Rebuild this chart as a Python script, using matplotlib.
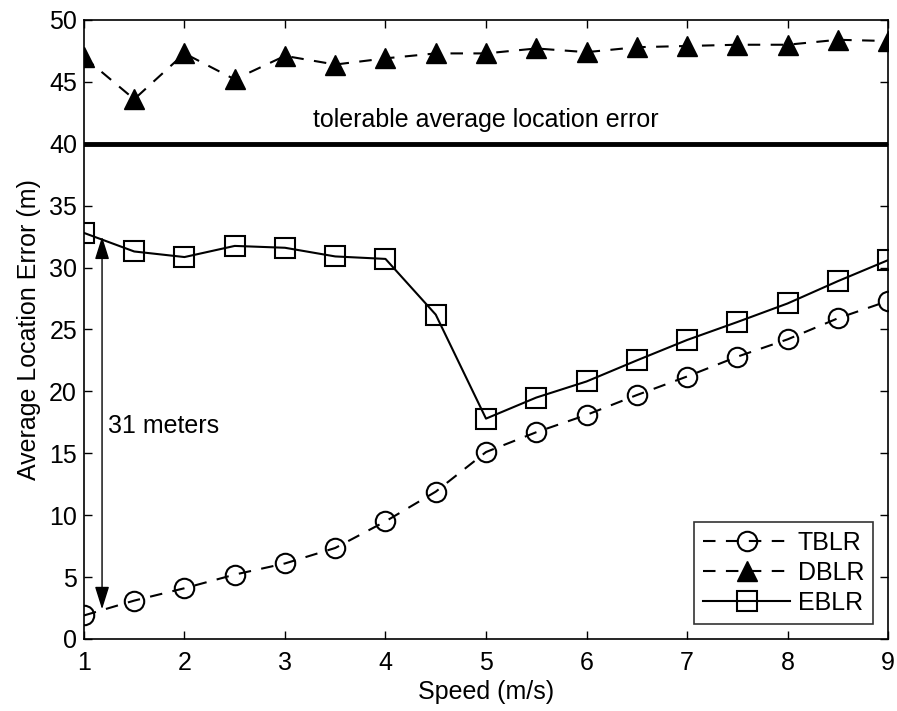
import matplotlib
matplotlib.use("Agg")
import matplotlib.pyplot as plt

plt.rcParams["font.family"] = ["Liberation Sans", "DejaVu Sans"]

speed = [1, 1.5, 2, 2.5, 3, 3.5, 4, 4.5, 5, 5.5, 6, 6.5, 7, 7.5, 8, 8.5, 9]
tblr = [1.9, 3.1, 4.1, 5.2, 6.1, 7.35, 9.5, 11.9, 15.1, 16.7, 18.1, 19.7, 21.2, 22.8, 24.2, 25.9, 27.3]
dblr = [47.0, 43.6, 47.3, 45.2, 47.1, 46.4, 46.9, 47.3, 47.3, 47.7, 47.4, 47.8, 47.9, 48.0, 48.0, 48.4, 48.3]
eblr = [32.8, 31.3, 30.85, 31.75, 31.6, 30.9, 30.7, 26.2, 17.8, 19.5, 20.8, 22.5, 24.15, 25.6, 27.1, 28.9, 30.6]
tolerable = 40
gap_top = 32.5
gap_bottom = 2.4

fs = 18

fig = plt.figure(figsize=(8.97, 7.11), dpi=100)
ax = fig.add_axes([0.0936, 0.1013, 0.8964, 0.8706])

ax.plot(speed, tblr, "k--", marker="o", markersize=14, markerfacecolor="none",
        markeredgewidth=1.5, linewidth=1.5, dashes=(6, 5), label="TBLR", zorder=3)
ax.plot(speed, dblr, "k--", marker="^", markersize=14, markerfacecolor="k",
        linewidth=1.5, dashes=(6, 5), label="DBLR", zorder=3)
ax.plot(speed, eblr, "k-", marker="s", markersize=14, markerfacecolor="none",
        markeredgewidth=1.5, linewidth=1.5, label="EBLR", zorder=3)

ax.axhline(tolerable, color="k", linewidth=3.5)
ax.text(5, 41.9, "tolerable average location error", ha="center", va="center", fontsize=fs)

ax.annotate("", xy=(1.18, gap_bottom), xytext=(1.18, gap_top),
            arrowprops=dict(arrowstyle="<|-|>,head_length=0.7,head_width=0.22",
                            color="k", lw=1, mutation_scale=20,
                            shrinkA=0, shrinkB=0))
ax.text(1.24, 17.2, "31 meters", ha="left", va="center", fontsize=fs)

ax.set_xlim(1, 9)
ax.set_ylim(0, 50)
ax.set_xticks(range(1, 10))
ax.set_yticks(range(0, 51, 5))
ax.tick_params(direction="in", top=True, right=True, labelsize=fs, length=6, width=1)
ax.tick_params(axis="x", pad=9)
ax.tick_params(axis="y", pad=5)
for s in ax.spines.values():
    s.set_linewidth(1.2)

ax.set_xlabel("Speed (m/s)", fontsize=fs, labelpad=3)
ax.set_ylabel("Average Location Error (m)", fontsize=fs, labelpad=6)

leg = ax.legend(loc="lower right", fontsize=fs, frameon=True, fancybox=False,
                edgecolor="k", borderaxespad=0.6, handlelength=3.5,
                labelspacing=0.25, borderpad=0.35, handletextpad=0.3)
leg.get_frame().set_linewidth(1.2)

fig.savefig("out.png", dpi=100)
